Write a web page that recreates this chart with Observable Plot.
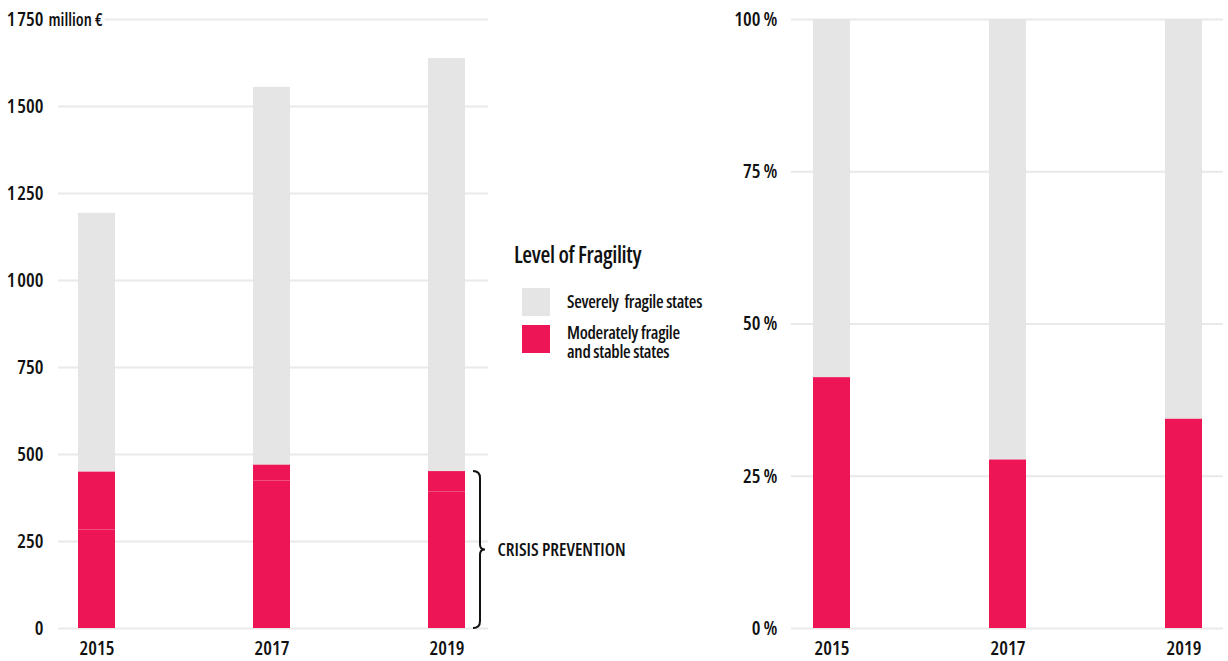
<!DOCTYPE html>
<html><head><meta charset="utf-8">
<script src="https://cdn.jsdelivr.net/npm/d3@7"></script>
<script src="https://cdn.jsdelivr.net/npm/@observablehq/plot@0.6"></script>
<style>
body{margin:0;background:#fff;}
#wrap{position:relative;width:1228px;height:661px;overflow:hidden;font-family:"Open Sans",sans-serif;font-stretch:75%;font-weight:560;color:#111;}
#wrap svg{font-stretch:75%;font-weight:560;}
#wrap svg g[aria-label^="x-axis"] text{font-size:19.5px;}
#wrap svg g[aria-label^="y-axis"] text{font-size:19.5px;}
#left{position:absolute;left:0;top:0;}
#right{position:absolute;left:640px;top:0;}
.lg{position:absolute;white-space:pre;}
#lgTitle{left:514px;top:243px;font-size:22.5px;line-height:23px;font-weight:600;letter-spacing:-0.35px;}
.sw{position:absolute;left:522px;width:28px;height:28px;}
.lgt{left:567px;font-size:17.5px;line-height:18.5px;font-weight:560;letter-spacing:-0.3px;}
</style></head>
<body>
<div id="wrap">
  <div id="left"></div>
  <div id="right"></div>
  <div id="lgTitle" class="lg">Level of Fragility</div>
  <div class="sw" style="top:288px;background:#e5e5e5"></div>
  <div class="lg lgt" style="top:292px">Severely  fragile states</div>
  <div class="sw" style="top:325px;background:#ed1556"></div>
  <div class="lg lgt" style="top:323px">Moderately fragile
and stable states</div>
</div>
<script>
// ---- data ----
const years = ["2015", "2017", "2019"];
const stableStates = [283, 424, 392];        // lower red segment, million €
const moderatelyFragile = [167, 46, 59];     // upper red segment, million €
const severelyFragile = [743, 1085, 1187];   // grey segment, million €
const shareModerateStable = [41.2, 27.7, 34.4]; // %
const shareSevere = [58.8, 72.3, 65.6];         // %
const yTicksAbs = [0, 250, 500, 750, 1000, 1250, 1500, 1750];
const yTicksPct = [0, 25, 50, 75, 100];
const braceLabel = "CRISIS PREVENTION";
const unitLabel = "million €";

const RED = "#ed1556", GREY = "#e5e5e5", GRID = "#e9e9e9";
const FONT = '"Open Sans",sans-serif';

const absRows = years.flatMap((y, i) => [
  {year: y, fill: RED, value: stableStates[i]},
  {year: y, fill: RED, value: moderatelyFragile[i]},
  {year: y, fill: GREY, value: severelyFragile[i]}
]);
const pctRows = years.flatMap((y, i) => [
  {year: y, fill: RED, value: shareModerateStable[i]},
  {year: y, fill: GREY, value: shareSevere[i]}
]);
const fmtAbs = d => d >= 1000 ? `${Math.floor(d / 1000)}\u200A${String(d % 1000).padStart(3, "0")}` : String(d);
const braceTop = stableStates[2] + moderatelyFragile[2];

function braceMark(index, scales, values, dimensions) {
  const y = scales.y;
  const xr = dimensions.width - dimensions.marginRight - 8;
  const y0 = y(braceTop), y1 = y(0), ym = (y0 + y1) / 2;
  const d = `M${xr - 7},${y0} Q${xr},${y0} ${xr},${y0 + 7} L${xr},${ym - 5} Q${xr},${ym} ${xr + 5},${ym} Q${xr},${ym} ${xr},${ym + 5} L${xr},${y1 - 7} Q${xr},${y1} ${xr - 7},${y1}`;
  const p = document.createElementNS("http://www.w3.org/2000/svg", "path");
  p.setAttribute("d", d);
  p.setAttribute("fill", "none");
  p.setAttribute("stroke", "#111");
  p.setAttribute("stroke-width", "2");
  return p;
}

const left = Plot.plot({
  width: 640, height: 661,
  marginLeft: 58, marginRight: 152, marginTop: 19, marginBottom: 33,
  style: {fontFamily: FONT, fontSize: "19px", color: "#111", background: "transparent", overflow: "visible"},
  x: {domain: years, paddingInner: 0.789, paddingOuter: 0.12, align: 0.46, label: null, tickSize: 0, tickPadding: 13},
  y: {domain: [0, 1750], ticks: yTicksAbs, tickFormat: fmtAbs, label: null, tickSize: 0, tickPadding: 15},
  color: {type: "identity"},
  marks: [
    Plot.ruleY(yTicksAbs, {stroke: GRID, strokeWidth: 2}),
    Plot.barY(absRows, {x: "year", y: "value", fill: "fill"}),
    Plot.text([unitLabel], {y: [1750], frameAnchor: "left", dx: -10, dy: 1, textAnchor: "start", text: d => d,
      fontSize: 17, fill: "#111", stroke: "white", strokeWidth: 8, paintOrder: "stroke"}),
    braceMark,
    Plot.text([braceLabel], {y: [braceTop / 2], frameAnchor: "right", dx: 9, textAnchor: "start", text: d => d,
      fontSize: 18, letterSpacing: "-0.3px", fill: "#111"})
  ]
});
document.getElementById("left").appendChild(left);

const right = Plot.plot({
  width: 588, height: 661,
  marginLeft: 151, marginRight: 5, marginTop: 19, marginBottom: 33,
  style: {fontFamily: FONT, fontSize: "19px", color: "#111", background: "transparent", overflow: "visible"},
  x: {domain: years, paddingInner: 0.79, paddingOuter: 0.122, label: null, tickSize: 0, tickPadding: 13},
  y: {domain: [0, 100], ticks: yTicksPct, tickFormat: d => `${d}\u2009%`, label: null, tickSize: 0, tickPadding: 14},
  color: {type: "identity"},
  marks: [
    Plot.ruleY(yTicksPct, {stroke: GRID, strokeWidth: 2}),
    Plot.barY(pctRows, {x: "year", y: "value", fill: "fill"})
  ]
});
document.getElementById("right").appendChild(right);
</script>
</body></html>
